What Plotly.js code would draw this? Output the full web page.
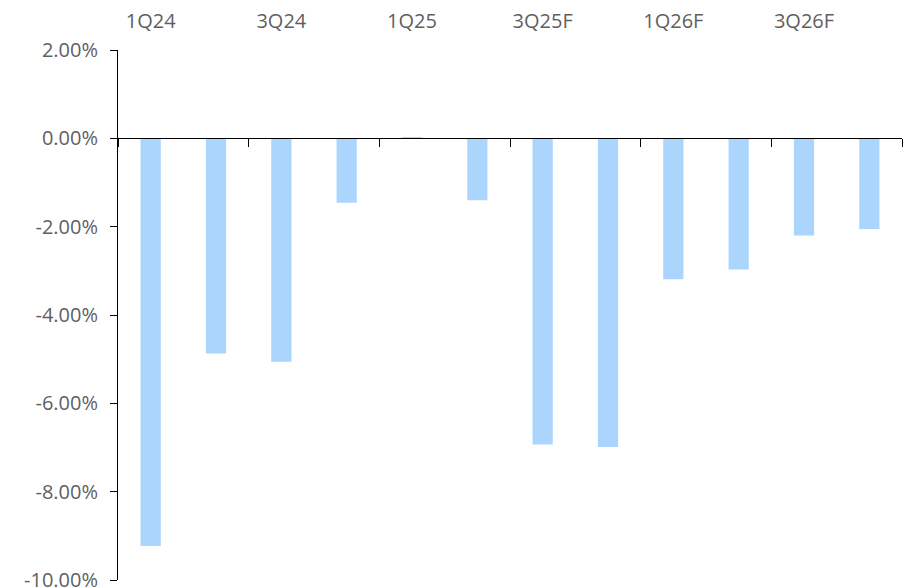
<!DOCTYPE html>
<html>
<head>
<meta charset="utf-8">
<script src="https://cdn.plot.ly/plotly-3.0.1.min.js"></script>
<style>
  html, body { margin: 0; padding: 0; background: #ffffff; }
  #chart { width: 908px; height: 588px; }
</style>
</head>
<body>
<div id="chart"></div>
<script>
// Quarterly change, % (F = forecast)
const quarters = ["1Q24", "2Q24", "3Q24", "4Q24", "1Q25", "2Q25",
                  "3Q25F", "4Q25F", "1Q26F", "2Q26F", "3Q26F", "4Q26F"];
const changePct = [-9.23, -4.87, -5.06, -1.46, 0.03, -1.40,
                   -6.93, -6.99, -3.19, -2.97, -2.20, -2.05];

// Value axis ticks
const yTickVals = [2, 0, -2, -4, -6, -8, -10];
const yTickText = ["2.00%", "0.00%", "-2.00%", "-4.00%", "-6.00%", "-8.00%", "-10.00%"];

const yMin = -10, yMax = 2;
// where the zero line sits inside the plot area (fraction of height)
const zeroPos = (0 - yMin) / (yMax - yMin);

const font = "'Open Sans', 'Noto Sans', sans-serif";
const grey = "#5f5f5f";

const bars = {
  type: "bar",
  x: quarters,
  y: changePct,
  marker: { color: "#acd5fe", line: { width: 0 } },
  hoverinfo: "skip"
};

// invisible copy that carries the category labels along the top
const topLabels = {
  type: "bar",
  x: quarters,
  y: quarters.map(() => null),
  xaxis: "x2",
  showlegend: false,
  hoverinfo: "skip"
};

const layout = {
  width: 908,
  height: 588,
  margin: { l: 118, r: 6, t: 50, b: 8 },
  paper_bgcolor: "#ffffff",
  plot_bgcolor: "#ffffff",
  showlegend: false,
  bargap: 0.69,
  font: { family: font, size: 20, color: grey },
  xaxis: {
    type: "category",
    anchor: "free",
    position: zeroPos,
    showline: true,
    linecolor: "#000000",
    linewidth: 1,
    ticks: "outside",
    tickson: "boundaries",
    dtick: 2,
    ticklen: 8,
    tickcolor: "#000000",
    showticklabels: false,
    showgrid: false,
    zeroline: false
  },
  xaxis2: {
    type: "category",
    overlaying: "x",
    side: "top",
    anchor: "y",
    matches: "x",
    dtick: 2,
    ticks: "",
    showline: false,
    showgrid: false,
    zeroline: false,
    ticklabelstandoff: 17,
    tickfont: { family: font, size: 20, color: grey }
  },
  yaxis: {
    range: [yMin, yMax],
    tickvals: yTickVals,
    ticktext: yTickText,
    showline: true,
    linecolor: "#000000",
    linewidth: 1,
    ticks: "outside",
    ticklen: 7,
    tickcolor: "#000000",
    showgrid: false,
    zeroline: false,
    ticklabeloverflow: "allow",
    ticklabelstandoff: 8,
    tickfont: { family: font, size: 20, color: grey }
  }
};

Plotly.newPlot("chart", [bars, topLabels], layout, { displayModeBar: false, staticPlot: true });
</script>
</body>
</html>
